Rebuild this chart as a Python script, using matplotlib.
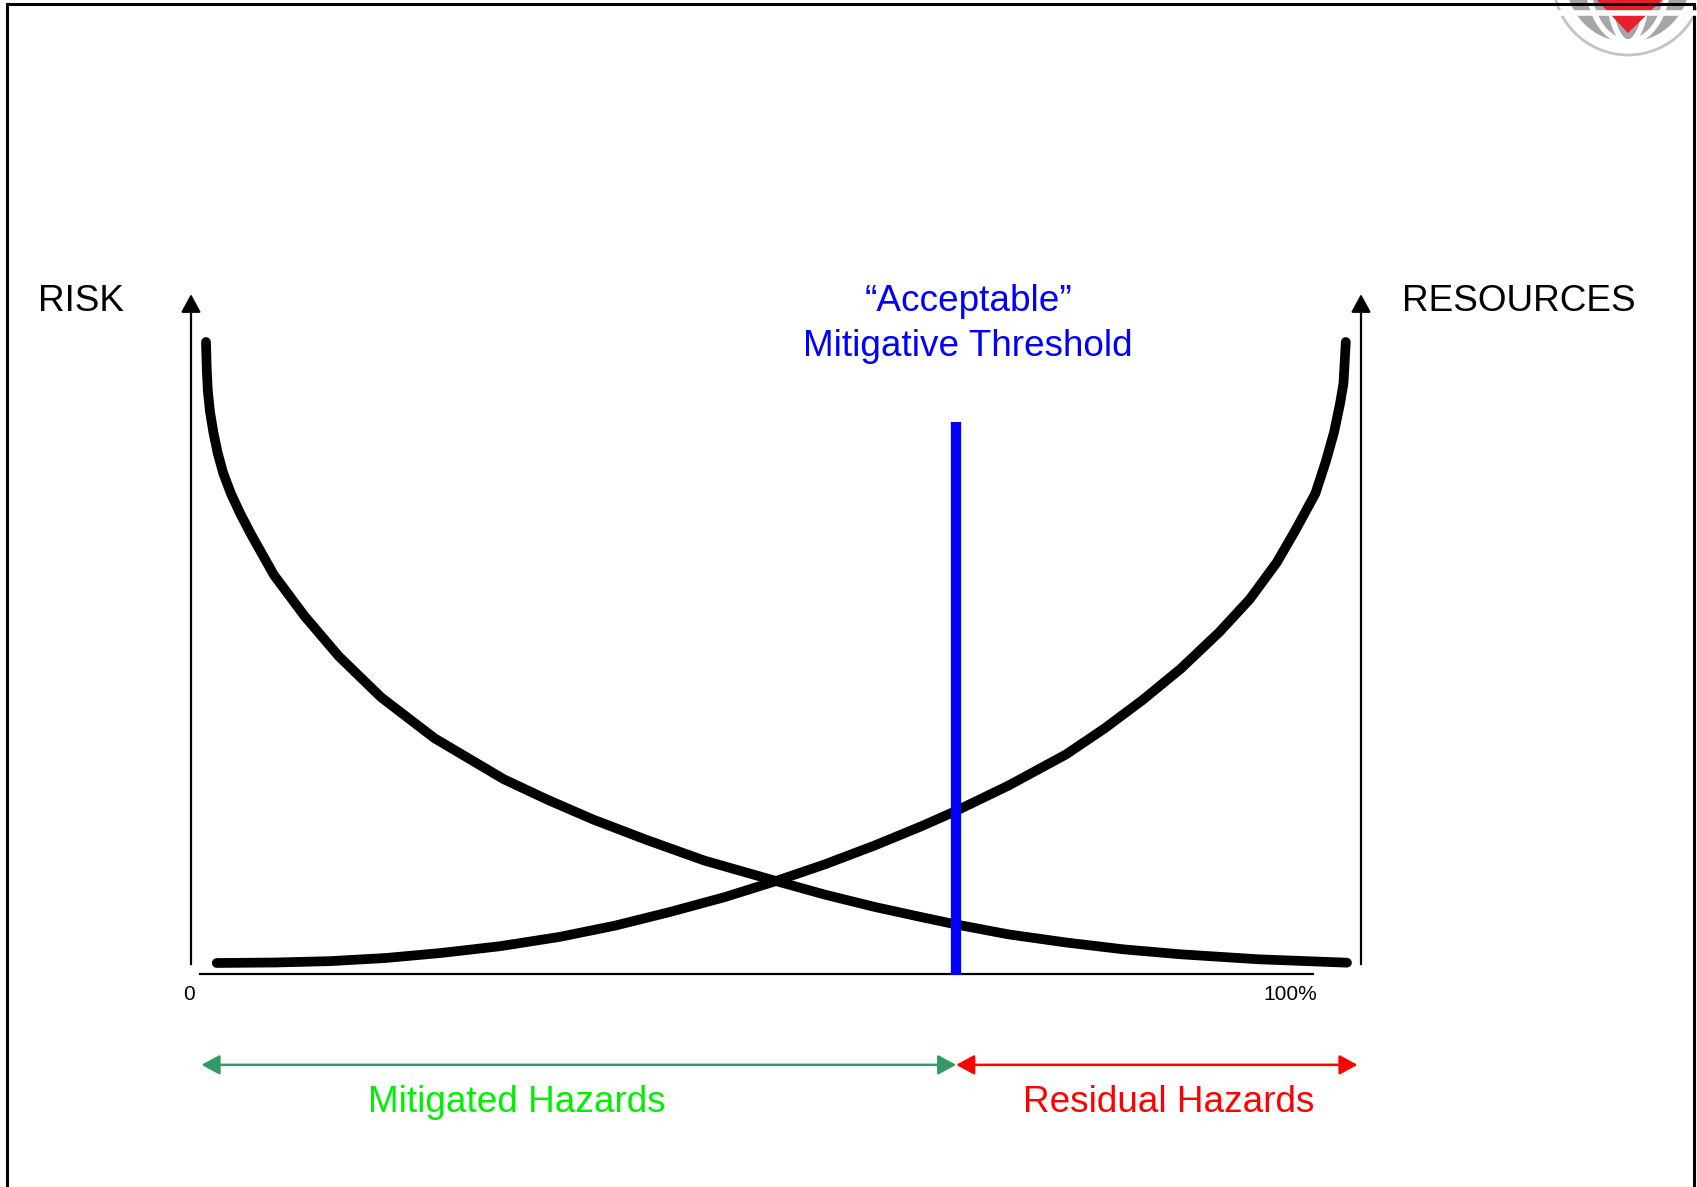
"""Risk vs. resources trade-off with the acceptable mitigative threshold."""

import matplotlib
matplotlib.use("Agg")
import matplotlib.pyplot as plt
from matplotlib.patches import Circle, Ellipse, Polygon

plt.rcParams["font.family"] = ["Liberation Sans", "DejaVu Sans"]

# Curves, x = share of hazards mitigated (%), y = level (% of axis height)
risk_x = [1.28, 1.35, 1.44, 1.62, 1.91, 2.27, 2.75, 3.41, 4.20, 5.11, 7.08,
          9.69, 12.63, 16.24, 20.81, 26.73, 30.46, 34.38, 38.97, 43.87, 50.0,
          54.2, 58.5, 62.4, 65.4, 69.9, 74.8, 79.7, 84.6, 91.2, 98.8]
risk_y = [100.0, 95.4, 92.1, 88.8, 85.5, 82.2, 78.9, 75.6, 72.4, 69.1, 62.5,
          55.9, 49.4, 42.8, 36.2, 29.6, 26.3, 23.1, 19.8, 16.5, 13.2, 11.0,
          9.0, 7.4, 6.2, 4.6, 3.3, 2.2, 1.4, 0.6, 0.05]

res_x = [2.2, 7.2, 11.9, 16.6, 21.3, 26.4, 31.5, 36.2, 40.9, 45.6, 50.0,
         54.2, 58.4, 62.4, 65.4, 69.9, 74.8, 78.1, 81.3, 84.6, 87.9, 90.5,
         92.8, 94.4, 96.1, 97.0, 97.7, 98.2, 98.5, 98.6, 98.7]
res_y = [0.0, 0.08, 0.3, 0.8, 1.6, 2.7, 4.2, 6.0, 8.2, 10.6, 13.2, 15.9,
         18.9, 22.0, 24.5, 28.6, 33.6, 37.8, 42.3, 47.4, 53.3, 58.6, 64.5,
         69.7, 75.6, 80.8, 85.5, 90.0, 93.3, 96.6, 100.0]

threshold_x = 65.4
threshold_top = 87.1
axis_top = 107.7
range_left, range_right = 0.9, 99.7

W, H = 1697, 1187
fig = plt.figure(figsize=(W / 100, H / 100), dpi=100)

# full-figure layer in pixel units for the slide frame, logo and labels
bg = fig.add_axes([0, 0, 1, 1])
bg.set_xlim(0, W)
bg.set_ylim(H, 0)
bg.axis("off")
bg.plot([7, 7, 1694, 1694], [H, 4, 4, H], color="black", lw=2.2,
        solid_joinstyle="miter")

# logo fragment in the top-right corner
cx, cy = 1628, -20
bg.add_patch(Circle((cx, cy), 75, facecolor="white", edgecolor="#c4c4c4", lw=2))
bg.add_patch(Circle((cx, cy), 62, facecolor="#a6a6a6", edgecolor="none"))
for w in (40, 80):
    bg.add_patch(Ellipse((cx, cy), w, 124, facecolor="none", edgecolor="white", lw=4))
bg.plot([cx - 70, cx + 70], [13, 13], color="white", lw=4)
bg.add_patch(Polygon([[1597, 0], [1662, 0], [1628, 33]], closed=True,
                     facecolor="#e8202a", edgecolor="none"))

# chart layer in data units
ax = fig.add_axes([191 / W, 1 - 963 / H, 1170 / W, 621 / H])
ax.set_xlim(0, 100)
ax.set_ylim(0, 100)
ax.axis("off")

head = dict(arrowstyle="-|>,head_length=0.55,head_width=0.3",
            mutation_scale=20, lw=1.6, color="black", shrinkA=0, shrinkB=0)
for x in (0, 100):
    ax.annotate("", xy=(x, axis_top), xytext=(x, -0.2),
                arrowprops=head, annotation_clip=False)
ax.plot([0.8, 95.9], [-1.85, -1.85], color="black", lw=1.6, clip_on=False)

ax.plot(risk_x, risk_y, color="black", lw=7, solid_capstyle="round",
        solid_joinstyle="round", clip_on=False)
ax.plot(res_x, res_y, color="black", lw=7, solid_capstyle="round",
        solid_joinstyle="round", clip_on=False)
ax.plot([threshold_x, threshold_x], [-1.9, threshold_top], color="#0000ff",
        lw=7.4, solid_capstyle="butt", clip_on=False)

rng = "<|-|>,head_length=0.55,head_width=0.3"
ax.annotate("", xy=(range_left, -16.4), xytext=(threshold_x, -16.4),
            arrowprops=dict(arrowstyle=rng, mutation_scale=20, lw=1.8,
                            color="#339966", shrinkA=0, shrinkB=0),
            annotation_clip=False)
ax.annotate("", xy=(threshold_x, -16.4), xytext=(range_right, -16.4),
            arrowprops=dict(arrowstyle=rng, mutation_scale=20, lw=1.8,
                            color="#ff0000", shrinkA=0, shrinkB=0),
            annotation_clip=False)

big = 26.6
bg.text(38, 311, "RISK", fontsize=big, ha="left", va="baseline")
bg.text(1402, 311, "RESOURCES", fontsize=big, ha="left", va="baseline")
bg.text(968, 311, "\u201cAcceptable\u201d", fontsize=big, color="#0000ff",
        ha="center", va="baseline")
bg.text(968, 356, "Mitigative Threshold", fontsize=big, color="#0000ff",
        ha="center", va="baseline")
bg.text(189, 1000, "0", fontsize=15, ha="center", va="baseline")
bg.text(1290, 1000, "100%", fontsize=15, ha="center", va="baseline")
bg.text(517, 1112, "Mitigated Hazards", fontsize=big, color="#00ee00",
        ha="center", va="baseline")
bg.text(1169, 1112, "Residual Hazards", fontsize=big, color="#ff0000",
        ha="center", va="baseline")

fig.savefig("out.png", dpi=100)
plt.close(fig)
